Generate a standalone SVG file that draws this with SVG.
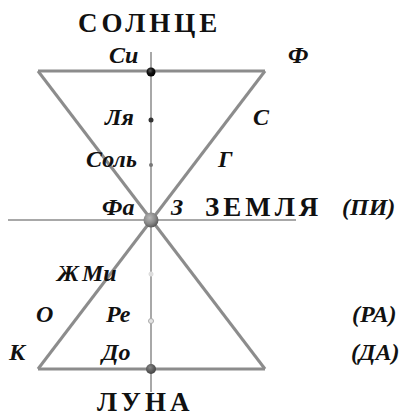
<svg xmlns="http://www.w3.org/2000/svg" width="399" height="416" viewBox="0 0 399 416">
<defs>
<radialGradient id="gBig" cx="0.4" cy="0.35" r="0.65">
<stop offset="0" stop-color="#b8b8b8"/><stop offset="0.6" stop-color="#8a8a8a"/><stop offset="1" stop-color="#5a5a5a"/>
</radialGradient>
<radialGradient id="gBlack" cx="0.4" cy="0.35" r="0.65">
<stop offset="0" stop-color="#555"/><stop offset="0.5" stop-color="#111"/><stop offset="1" stop-color="#000"/>
</radialGradient>
<radialGradient id="gDo" cx="0.4" cy="0.35" r="0.65">
<stop offset="0" stop-color="#888"/><stop offset="0.6" stop-color="#5c5c5c"/><stop offset="1" stop-color="#444"/>
</radialGradient>
</defs>
<style>
.t{font-weight:bold;fill:#111}
.big{font-size:27px;letter-spacing:4px}
.i{font-style:italic;font-size:24px}
.ln{stroke:#8c8c8c;stroke-width:3;fill:none}
.ax{stroke:#a8a8a8;stroke-width:2;fill:none}
</style>
<g id="connectors">
<line class="ax" x1="151" y1="52" x2="151" y2="392"/>
<line class="ax" x1="8" y1="220" x2="296" y2="220"/>
<line class="ln" x1="38" y1="71" x2="265" y2="71"/>
<line class="ln" x1="38" y1="369" x2="265" y2="369"/>
<line class="ln" x1="38" y1="71" x2="265" y2="369"/>
<line class="ln" x1="265" y1="71" x2="38" y2="369"/>
</g>
<g font-family="Liberation Serif, Times New Roman, serif">
<g id="si"><circle cx="151" cy="72" r="4.5" fill="url(#gBlack)"/><text class="t i" x="109" y="63">Си</text></g>
<g id="lya"><circle cx="151" cy="120" r="2.5" fill="#333"/><text class="t i" x="105" y="125">Ля</text></g>
<g id="sol"><circle cx="151" cy="165" r="2" fill="#777"/><text class="t i" x="86" y="167">Соль</text></g>
<g id="earth"><circle cx="151" cy="220" r="7.5" fill="url(#gBig)"/><text class="t i" x="102" y="215">Фа</text></g>
<g id="mi"><circle cx="151" cy="274" r="2.5" fill="#ddd"/><text class="t i" x="82" y="281">Ми</text></g>
<g id="re"><circle cx="151" cy="321" r="2.5" fill="#e4e4e4" stroke="#aaa" stroke-width="1"/><text class="t i" x="106" y="322">Ре</text></g>
<g id="do"><circle cx="151" cy="369" r="5" fill="url(#gDo)"/><text class="t i" x="102" y="360">До</text></g>
<g id="labels">
<text class="t big" x="78" y="32">СОЛНЦЕ</text>
<text class="t big" x="205" y="216">ЗЕМЛЯ</text>
<text class="t big" x="97" y="411">ЛУНА</text>
<text class="t i" x="288" y="63">Ф</text>
<text class="t i" x="253" y="125">С</text>
<text class="t i" x="218" y="167">Г</text>
<text class="t i" x="171" y="215">З</text>
<text class="t i" x="342" y="215">(ПИ)</text>
<text class="t i" x="57" y="281">Ж</text>
<text class="t i" x="36" y="322">О</text>
<text class="t i" x="352" y="322">(РА)</text>
<text class="t i" x="9" y="360">К</text>
<text class="t i" x="351" y="360">(ДА)</text>
</g>
</g>
</svg>
